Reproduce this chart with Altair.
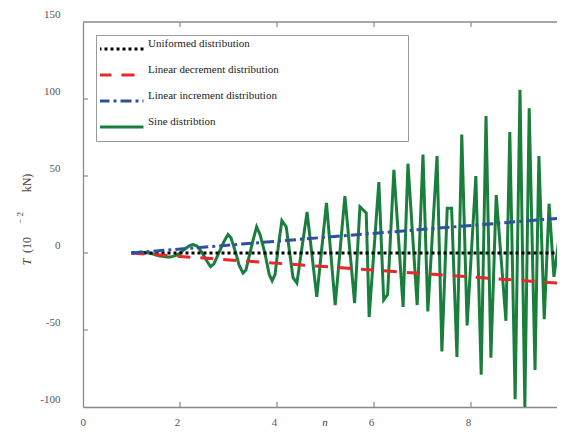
import altair as alt
import pandas as pd

# ---- data ----
series_names = ["Uniformed distribution", "Linear decrement distribution",
                "Linear increment distribution", "Sine distribtion"]
series_colors = ["#000000", "#e5282c", "#2f4f9f", "#1a7f3c"]
series_dash = [[3, 3], [13, 10], [11, 4, 3, 4], [1, 0]]

lin_n = [1.0, 10.0]
uniform_T = [0.0, 0.0]
decrement_T = [0.0, -20.0]
increment_T = [0.0, 23.0]

sine_n = [1.0, 1.1, 1.2, 1.3, 1.4, 1.5, 1.6, 1.7, 1.8, 1.9, 2.0,
          2.1, 2.2, 2.27, 2.35, 2.45, 2.55, 2.63, 2.7, 2.8, 2.9,
          2.99, 3.05, 3.15, 3.22, 3.3, 3.36, 3.45, 3.52, 3.58, 3.65,
          3.75, 3.84, 3.9, 3.96, 4.03, 4.1, 4.19, 4.33, 4.41, 4.62,
          4.82, 5.02, 5.2, 5.4, 5.6, 5.71, 5.84, 5.9, 6.1, 6.2,
          6.28, 6.41, 6.6, 6.7, 6.89, 7.01, 7.11, 7.3, 7.4, 7.51,
          7.6, 7.71, 7.81, 7.92, 8.1, 8.21, 8.31, 8.41, 8.52, 8.72,
          8.8, 8.91, 9.01, 9.11, 9.2, 9.32, 9.4, 9.51, 9.61, 9.71,
          9.81, 9.9, 10.0]
sine_T = [0, 0.3, 0.5, 0.3, -0.3, -1.2, -2.0, -2.5, -2.6, -1.8, 0,
          2.6, 4.8, 5.5, 4.5, 0.5, -5, -8.8, -7, 0, 7,
          12, 10, 0, -8, -13, -11, 1, 10, 17, 12,
          0, -14, -18, -14, 5, 21, 17, -16, -19.5, 26.6,
          -28.5, 32.5, -33.8, 37, -32.5, 30, 26, -41.6, 46, -30.5,
          -27, 54, -35, 58, -33.8, 64, -38, 63, -64, 29,
          29, -67.5, 77, -47, 50, -79, 89, -68, 37.6, -44,
          78.6, -95, 106, -100, 94, -76, 63, -43, 32, -15.5,
          8.4, -3, 0]

x_ticks = [0, 2, 4, 6, 8]
y_ticks = [-100, -50, 0, 50, 100, 150]
x_inner_ticks = [2, 4, 6, 8]
y_inner_ticks = [-50, 0, 50, 100]

SERIF = "Liberation Serif"
AX = "#8a8a8a"
PLOT_W = 474   # visible part of the plot; the right edge (n = 10) falls just outside

df_sine = pd.DataFrame({"n": sine_n, "T": sine_T, "s": series_names[3]})
df_uni = pd.DataFrame({"n": lin_n, "T": uniform_T, "s": series_names[0]})
df_dec = pd.DataFrame({"n": lin_n, "T": decrement_T, "s": series_names[1]})
df_inc = pd.DataFrame({"n": lin_n, "T": increment_T, "s": series_names[2]})

legend = alt.Legend(orient="none", legendX=13, legendY=13, title=" ",
                    titleOrient="right", titlePadding=125,
                    symbolType="stroke", symbolSize=2025, symbolStrokeWidth=3,
                    clipHeight=20, rowPadding=5, labelFont=SERIF, labelFontSize=11,
                    labelBaseline="bottom", labelColor="#222", labelOffset=3,
                    symbolOffset=-3, padding=4, strokeColor="#999",
                    fillColor="white", labelLimit=400)

xscale = alt.Scale(domain=[0, 10], range=[0, 485], nice=False)
yscale = alt.Scale(domain=[-100, 150], nice=False)

color = alt.Color("s:N", scale=alt.Scale(domain=series_names, range=series_colors),
                  legend=legend)
dash = alt.StrokeDash("s:N", scale=alt.Scale(domain=series_names, range=series_dash),
                      legend=legend)

xaxis = alt.Axis(values=x_ticks, title=None, grid=False, ticks=False, tickSize=0,
                 labelPadding=9, labelOffset=-3, labelFont=SERIF, labelFontSize=11,
                 labelColor="#555", domainColor=AX, domainWidth=1.3,
                 labelExpr="'' + datum.value")
yaxis = alt.Axis(values=y_ticks, title=None, grid=False, ticks=False, tickSize=0,
                 labelPadding=23, labelOffset=-7.5, labelFont=SERIF, labelFontSize=11,
                 labelColor="#555", domainColor=AX, domainWidth=1.3,
                 labelExpr="'' + datum.value")

X = alt.X("n:Q", scale=xscale, axis=xaxis)
Y = alt.Y("T:Q", scale=yscale, axis=yaxis)


def line_layer(df):
    return alt.Chart(df).mark_line(strokeWidth=3, strokeCap="butt", clip=True).encode(
        x=X, y=Y, color=color, strokeDash=dash)


sine = line_layer(df_sine)
uni = line_layer(df_uni)
dec = line_layer(df_dec)
inc = line_layer(df_inc)

tx = pd.DataFrame({"n": x_inner_ticks})
ty = pd.DataFrame({"T": y_inner_ticks})
bottom_ticks = alt.Chart(tx).mark_rule(color=AX, strokeWidth=1.2).encode(
    x=X, y=alt.value(385), y2=alt.value(380))
top_ticks = alt.Chart(tx).mark_rule(color=AX, strokeWidth=1.2).encode(
    x=X, y=alt.value(0), y2=alt.value(5))
left_ticks = alt.Chart(ty).mark_rule(color=AX, strokeWidth=1.2).encode(
    y=Y, x=alt.value(0), x2=alt.value(5))
top_line = alt.Chart(pd.DataFrame({"a": [0]})).mark_rule(color=AX, strokeWidth=1.3).encode(
    x=alt.value(0), x2=alt.value(PLOT_W), y=alt.value(0))


def label(text, x, y, size=12, style="normal", angle=270, baseline="middle"):
    return alt.Chart(pd.DataFrame({"t": [text]})).mark_text(
        font=SERIF, fontSize=size, fontStyle=style, color="#444", angle=angle,
        align="center", baseline=baseline).encode(
        text="t:N", x=alt.value(x), y=alt.value(y))


ytitle = [label("T", -56, 240, 12, "italic"),
          label("(10", -56, 223, 12),
          label("\u2212 2", -63, 196, 9),
          label("kN)", -56, 161, 12)]
xtitle = label("n", 242, 404, 11, "italic", 0, "alphabetic")

chart = alt.layer(sine, uni, dec, inc, bottom_ticks, top_ticks, left_ticks, top_line,
                  *ytitle, xtitle).properties(
    width=PLOT_W, height=385,
    padding={"left": 75, "top": 14, "right": 0, "bottom": 20},
    autosize=alt.AutoSizeParams(type="none"),
).configure_view(strokeWidth=0)

chart.save("out.html", embed_options={"renderer": "svg", "actions": False})
